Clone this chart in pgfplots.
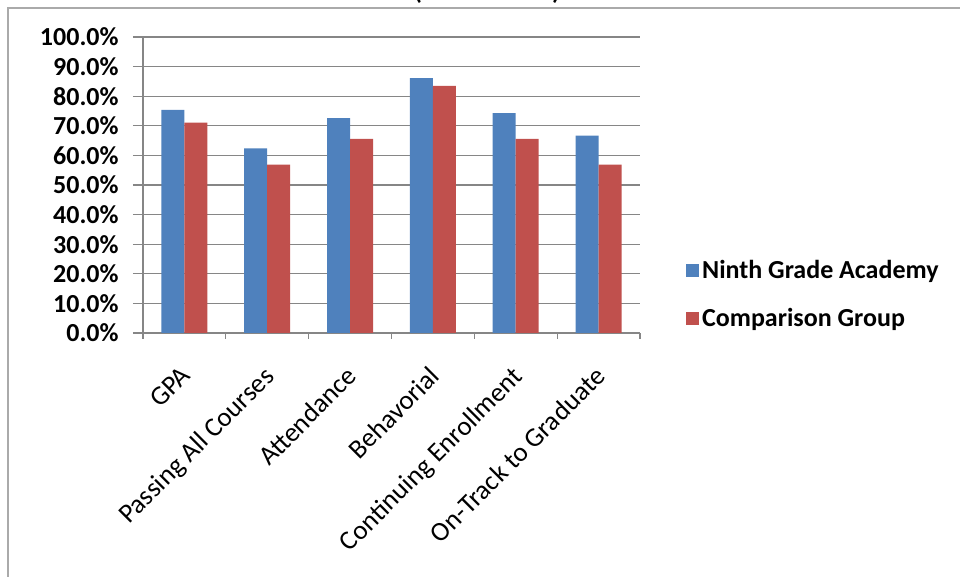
\documentclass[border=0pt]{standalone}
\usepackage{fontspec}
\setmainfont{Carlito}
\usepackage{pgfplots}
\pgfplotsset{compat=1.18}
\definecolor{nblue}{HTML}{4F81BD}
\definecolor{cred}{HTML}{C0504D}
\definecolor{gridgray}{HTML}{868686}
\begin{document}
\begin{tikzpicture}
\useasboundingbox (0pt,0pt) rectangle (480pt,288.5pt);
\draw[gridgray!70, line width=0.6pt] (4pt,-2pt) -- (4pt,284.5pt) -- (485pt,284.5pt);
\node[font=\fontsize{18}{20}\selectfont, anchor=base, inner sep=0pt] at (208.5pt,289pt) {(};
\node[font=\fontsize{18}{20}\selectfont, anchor=base, inner sep=0pt] at (278.5pt,289pt) {)};
\begin{axis}[
  at={(71.5pt,122pt)}, anchor=south west,
  scale only axis, width=248.5pt, height=148pt,
  ybar=0pt, bar width=11.5pt,
  xmin=-0.5, xmax=5.5, ymin=0, ymax=100,
  xtick={0,1,2,3,4,5},
  xticklabels={GPA,Passing All Courses,Attendance,Behavorial,Continuing Enrollment,On-Track to Graduate},
  minor xtick={-0.5,0.5,1.5,2.5,3.5,4.5,5.5},
  major x tick style={draw=none},
  minor x tick style={gridgray, line width=0.6pt},
  ytick={0,10,20,30,40,50,60,70,80,90,100},
  yticklabels={0.0\%,10.0\%,20.0\%,30.0\%,40.0\%,50.0\%,60.0\%,70.0\%,80.0\%,90.0\%,100.0\%},
  y tick style={gridgray, line width=0.6pt},
  tick align=outside, major tick length=5pt, minor tick length=3pt,
  axis x line*=bottom, axis y line*=left,
  axis line style={gridgray, line width=0.6pt, -},
  ymajorgrids, grid style={gridgray, line width=0.6pt},
  yticklabel style={font=\fontsize{13}{15}\selectfont\bfseries, inner sep=0pt, xshift=-7pt},
  xticklabel style={font=\fontsize{13.5}{15}\selectfont, anchor=north east, inner sep=0pt, xshift=-2.5pt, yshift=-10.7pt, rotate=45},
  legend style={at={(1.08,0.13)}, anchor=west, draw=none, fill=none,
    font=\fontsize{13}{15}\selectfont\bfseries, row sep=10.5pt,
    nodes={inner sep=1.5pt}},
  legend cell align=left,
  legend image code/.code={\fill[#1,draw=none] (0pt,-3.2pt) rectangle (6.5pt,3.2pt);},
]
\addplot[fill=nblue, draw=none] coordinates {(0,75.4) (1,62.4) (2,72.6) (3,86.1) (4,74.3) (5,66.7)};
\addplot[fill=cred, draw=none] coordinates {(0,71.1) (1,56.9) (2,65.6) (3,83.5) (4,65.6) (5,56.9)};
\legend{Ninth Grade Academy, Comparison Group}
\end{axis}
\end{tikzpicture}
\end{document}
